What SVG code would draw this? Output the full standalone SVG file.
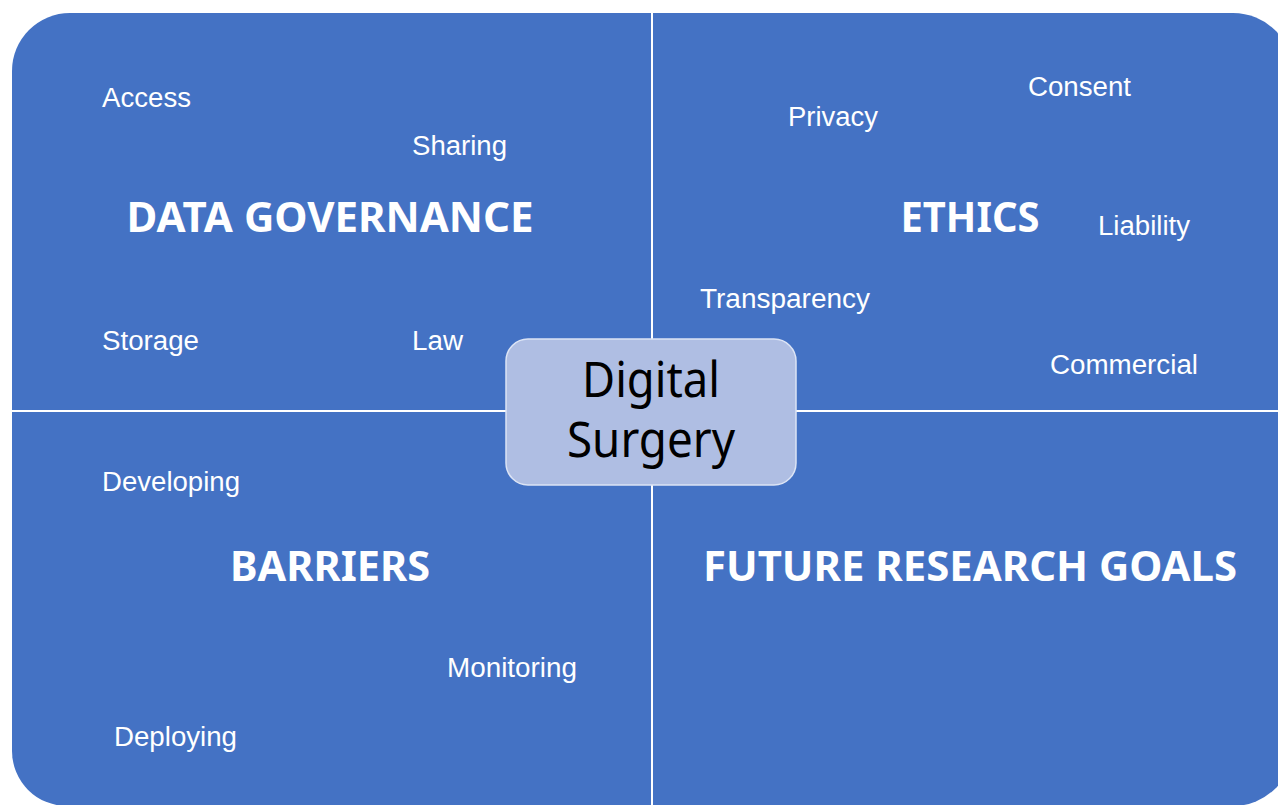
<svg xmlns="http://www.w3.org/2000/svg" width="1278" height="805" viewBox="0 0 1278 805">
<style>
.q{fill:#4472C4}
.lbl{font-family:"Liberation Sans",Arial,sans-serif;font-size:27px;fill:#FFFFFF}
.hd{font-family:"Noto Sans","Open Sans",sans-serif;font-weight:bold;font-size:42px;fill:#FFFFFF;text-anchor:middle}
.ct{font-family:"Noto Sans","Open Sans",sans-serif;font-size:49px;fill:#000000;text-anchor:middle}
</style>
<rect x="0" y="0" width="1278" height="805" fill="#FFFFFF"/>
<g id="data-governance">
<path class="q" d="M12,71 A58,58 0 0 1 70,13 H651 V410 H12 Z"/>
<text class="hd" x="330" y="232" textLength="407" lengthAdjust="spacingAndGlyphs">DATA GOVERNANCE</text>
<text class="lbl" x="102" y="107" textLength="89" lengthAdjust="spacingAndGlyphs">Access</text>
<text class="lbl" x="412" y="155" textLength="95" lengthAdjust="spacingAndGlyphs">Sharing</text>
<text class="lbl" x="102" y="350" textLength="97" lengthAdjust="spacingAndGlyphs">Storage</text>
<text class="lbl" x="412" y="350" textLength="51" lengthAdjust="spacingAndGlyphs">Law</text>
</g>
<g id="ethics">
<path class="q" d="M653,13 H1233 A60,60 0 0 1 1293,73 V410 H653 Z"/>
<text class="hd" x="970" y="232" textLength="139" lengthAdjust="spacingAndGlyphs">ETHICS</text>
<text class="lbl" x="788" y="126" textLength="90" lengthAdjust="spacingAndGlyphs">Privacy</text>
<text class="lbl" x="1028" y="96" textLength="103" lengthAdjust="spacingAndGlyphs">Consent</text>
<text class="lbl" x="1098" y="235" textLength="92" lengthAdjust="spacingAndGlyphs">Liability</text>
<text class="lbl" x="700" y="308" textLength="170" lengthAdjust="spacingAndGlyphs">Transparency</text>
<text class="lbl" x="1050" y="374" textLength="148" lengthAdjust="spacingAndGlyphs">Commercial</text>
</g>
<g id="barriers">
<path class="q" d="M12,412 H651 V806 H67 A55,55 0 0 1 12,751 Z"/>
<text class="hd" x="330" y="581" textLength="200" lengthAdjust="spacingAndGlyphs">BARRIERS</text>
<text class="lbl" x="102" y="491" textLength="138" lengthAdjust="spacingAndGlyphs">Developing</text>
<text class="lbl" x="447" y="677" textLength="130" lengthAdjust="spacingAndGlyphs">Monitoring</text>
<text class="lbl" x="114" y="746" textLength="123" lengthAdjust="spacingAndGlyphs">Deploying</text>
</g>
<g id="future-research-goals">
<path class="q" d="M653,412 H1293 V746 A60,60 0 0 1 1233,806 H653 Z"/>
<text class="hd" x="970" y="581" textLength="534" lengthAdjust="spacingAndGlyphs">FUTURE RESEARCH GOALS</text>
</g>
<g id="connectors"></g>
<g id="digital-surgery">
<rect x="506" y="339" width="290" height="146" rx="22" ry="22" fill="#AFBEE3" stroke="#DCE4F5" stroke-width="1.5"/>
<text class="ct" x="651" y="397" textLength="138" lengthAdjust="spacingAndGlyphs">Digital</text>
<text class="ct" x="651" y="457" textLength="168" lengthAdjust="spacingAndGlyphs">Surgery</text>
</g>
</svg>
